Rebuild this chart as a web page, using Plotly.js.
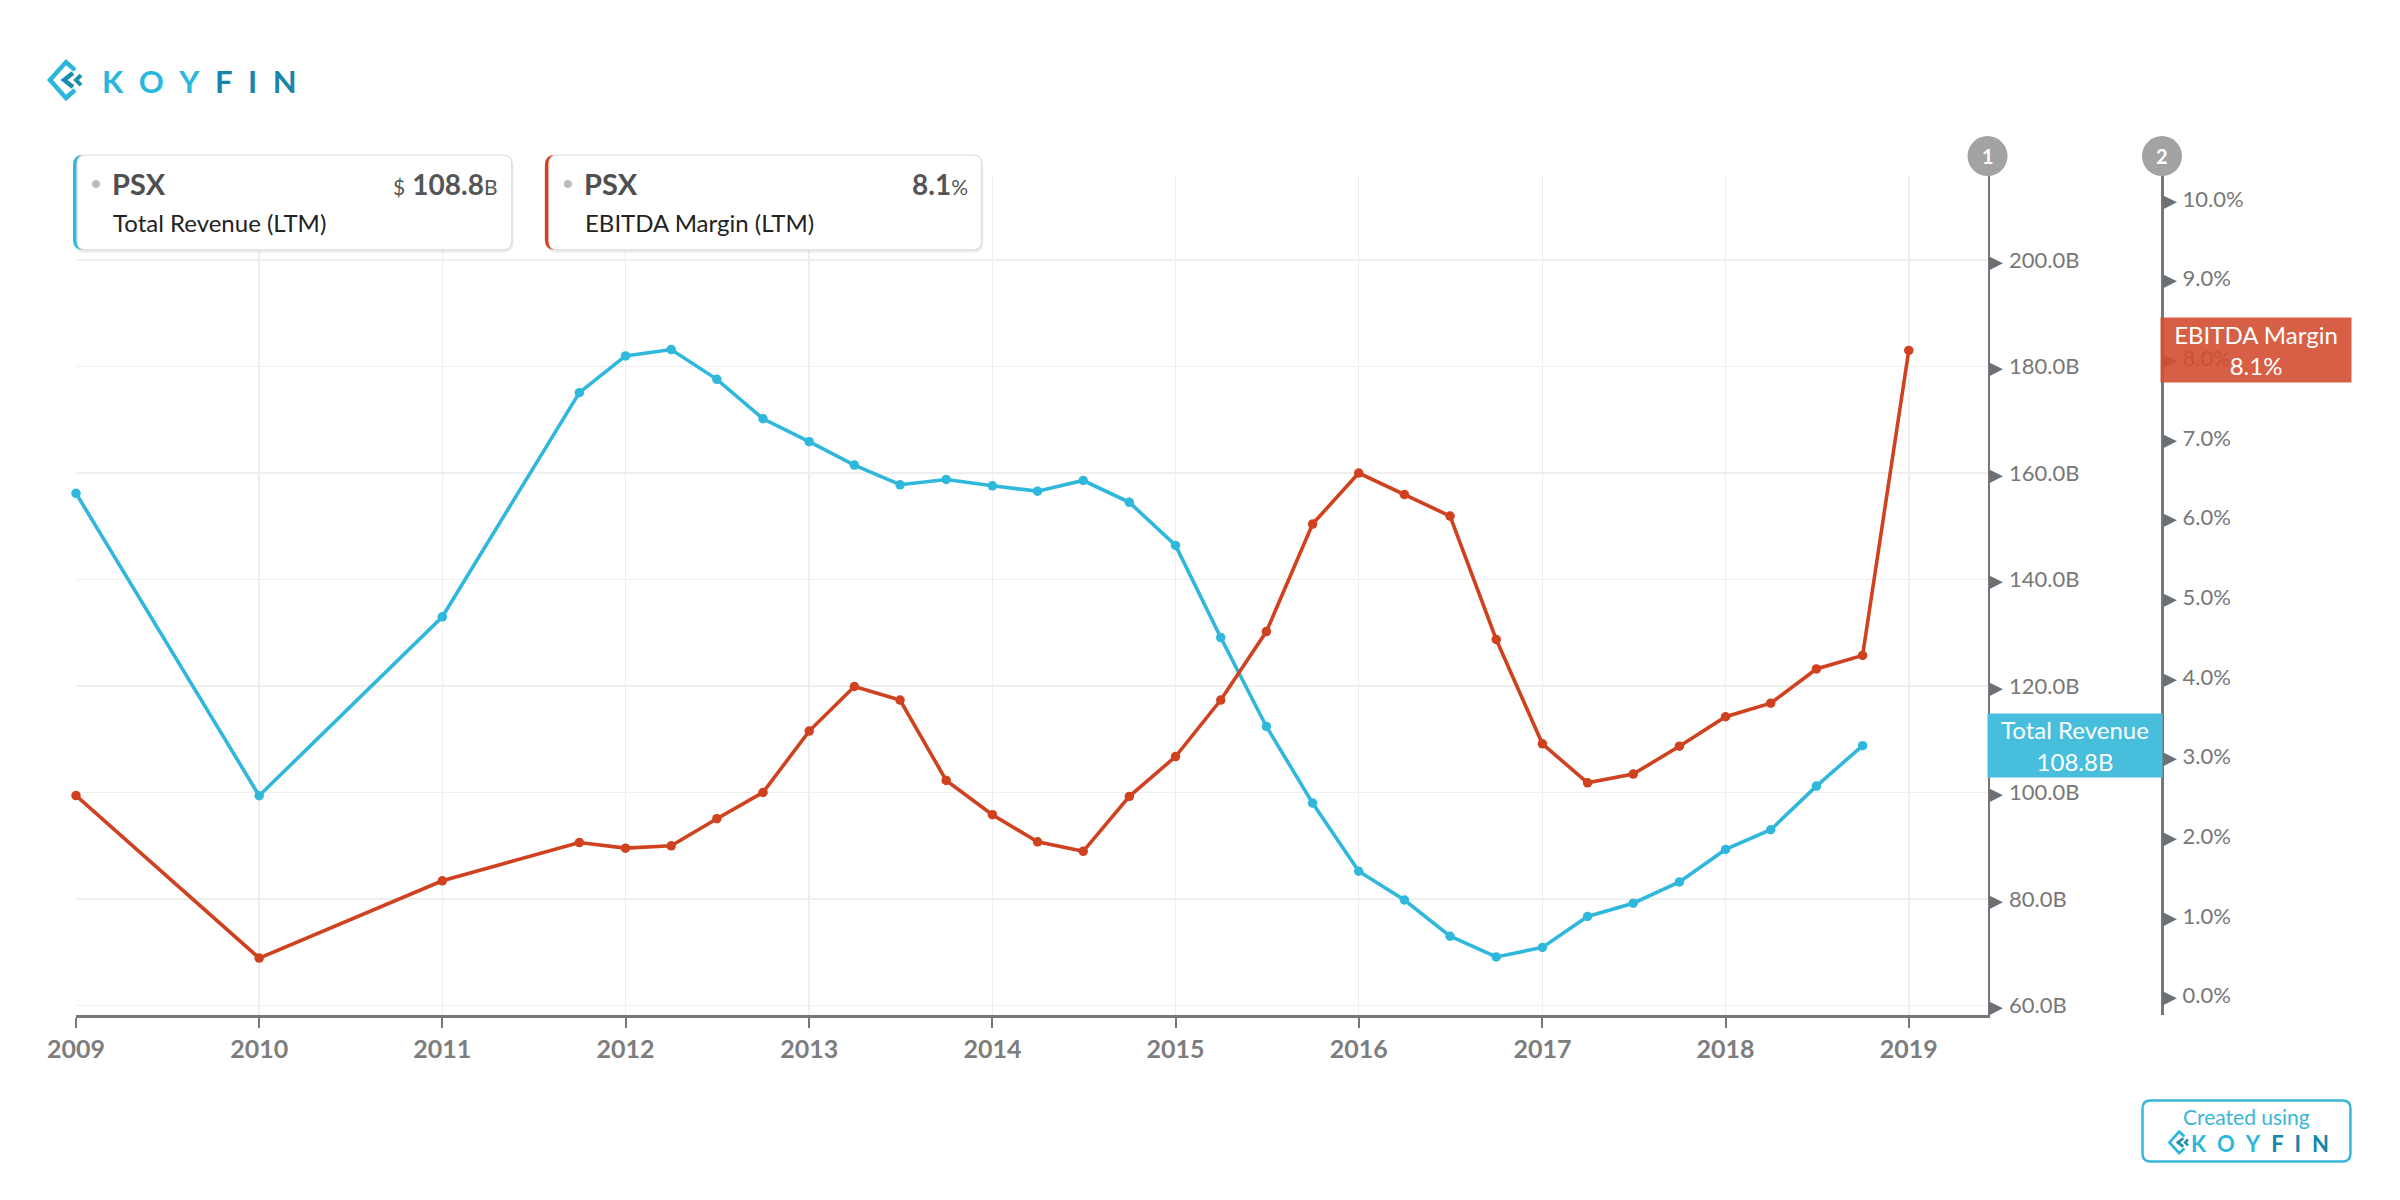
<!DOCTYPE html>
<html>
<head>
<meta charset="utf-8">
<script src="https://cdn.plot.ly/plotly-3.0.1.min.js"></script>
<style>html,body{margin:0;padding:0;background:#fff;}#chart{width:2400px;height:1200px;}</style>
</head>
<body>
<div id="chart"></div>
<script>
// ---- data ----
var ticker = 'PSX';
var revenueName = 'Total Revenue (LTM)';
var marginName = 'EBITDA Margin (LTM)';
var periods = ['2009-01-01','2010-01-01','2011-01-01','2011-10-01',
  '2012-01-01','2012-04-01','2012-07-01','2012-10-01',
  '2013-01-01','2013-04-01','2013-07-01','2013-10-01',
  '2014-01-01','2014-04-01','2014-07-01','2014-10-01',
  '2015-01-01','2015-04-01','2015-07-01','2015-10-01',
  '2016-01-01','2016-04-01','2016-07-01','2016-10-01',
  '2017-01-01','2017-04-01','2017-07-01','2017-10-01',
  '2018-01-01','2018-04-01','2018-07-01','2018-10-01','2019-01-01'];
var revenue = [156.2, 99.4, 133.0, 175.1,
  182.0, 183.2, 177.6, 170.2,
  165.9, 161.5, 157.8, 158.8,
  157.6, 156.6, 158.6, 154.5,
  146.4, 129.1, 112.4, 98.0,
  85.2, 79.8, 73.0, 69.1,
  70.9, 76.7, 79.2, 83.2,
  89.3, 93.0, 101.2, 108.8];
var margin = [2.51, 0.47, 1.44, 1.92,
  1.85, 1.88, 2.22, 2.55,
  3.32, 3.88, 3.71, 2.70,
  2.27, 1.93, 1.81, 2.50,
  3.00, 3.71, 4.57, 5.92,
  6.56, 6.29, 6.02, 4.47,
  3.16, 2.67, 2.78, 3.13,
  3.50, 3.67, 4.10, 4.27, 8.10];
var yearTicks = ['2009','2010','2011','2012','2013','2014','2015','2016','2017','2018','2019'];
var revenueTicks = [60, 80, 100, 120, 140, 160, 180, 200];
var marginTicks = [0, 1, 2, 3, 4, 5, 6, 7, 8, 9, 10];

// ---- layout helpers (pixel -> paper) ----
var W = 2400, H = 1200;
var L = 76, R = 2162.5, T = 176, B = 1015.5;
function px(x){ return (x - L) / (R - L); }
function py(y){ return (B - y) / (B - T); }
function P(x,y){ return px(x).toFixed(5) + ',' + py(y).toFixed(5); }
function rr(x0,y0,x1,y1,r){
  return 'M' + P(x0+r,y0) + ' L' + P(x1-r,y0) + ' Q' + P(x1,y0) + ' ' + P(x1,y0+r) +
    ' L' + P(x1,y1-r) + ' Q' + P(x1,y1) + ' ' + P(x1-r,y1) +
    ' L' + P(x0+r,y1) + ' Q' + P(x0,y1) + ' ' + P(x0,y1-r) +
    ' L' + P(x0,y0+r) + ' Q' + P(x0,y0) + ' ' + P(x0+r,y0) + ' Z';
}
function poly(pts){ return 'M' + pts.map(function(p){return P(p[0],p[1]);}).join(' L'); }

var BLUE = '#2fb8db', RED = '#d0421f';
var BLUE_BOX = '#46bedc', RED_BOX = 'rgba(210,78,50,0.9)';
var FONT = 'Lato, "Open Sans", sans-serif';
var tri = '<span style="font-size:18px;color:#6f6f6f">\u25B6</span>\u00a0';

var lastRev = revenue[revenue.length-1];
var lastMargin = margin[margin.length-1];

var traces = [
  {x: periods.slice(0, revenue.length), y: revenue, type: 'scatter', mode: 'lines+markers',
   name: revenueName, yaxis: 'y', line: {color: BLUE, width: 3.6}, marker: {color: BLUE, size: 9.5}, cliponaxis: false},
  {x: periods, y: margin, type: 'scatter', mode: 'lines+markers',
   name: marginName, yaxis: 'y2', line: {color: RED, width: 3.6}, marker: {color: RED, size: 9.5}, cliponaxis: false}
];

var shapes = [];
var annotations = [];

// legend cards
function card(x0, x1, color){
  shapes.push({type:'path', xref:'paper', yref:'paper', path: rr(x0+1, 157, x1+1.5, 252.5, 10), fillcolor:'rgba(0,0,0,0.07)', line:{width:0}});
  shapes.push({type:'path', xref:'paper', yref:'paper', path: rr(x0, 155, x1, 250, 10), fillcolor:color, line:{width:0}});
  shapes.push({type:'path', xref:'paper', yref:'paper', path: rr(x0+4, 155, x1, 250, 9), fillcolor:'#ffffff', line:{color:'#dcdcdc', width:1.2}});
}
card(73, 512, BLUE);
card(545, 982, RED);

function cardText(x0, x1, valueHtml, name){
  shapes.push({type:'circle', xref:'paper', yref:'paper', x0:px(x0+19), x1:px(x0+27), y0:py(188), y1:py(180), fillcolor:'#bdbdbd', line:{width:0}});
  annotations.push({xref:'paper', yref:'paper', x:px(x0+37), y:py(184), xanchor:'left', yanchor:'middle', showarrow:false,
    text:'<b>' + ticker + '</b>', font:{family:FONT, size:29, color:'#4f4f4f'}});
  annotations.push({xref:'paper', yref:'paper', x:px(x1-12), y:py(184), xanchor:'right', yanchor:'middle', showarrow:false,
    text: valueHtml, font:{family:FONT, size:28, color:'#555'}});
  annotations.push({xref:'paper', yref:'paper', x:px(x0+38), y:py(223), xanchor:'left', yanchor:'middle', showarrow:false,
    text: name, font:{family:FONT, size:24, color:'#222'}});
}
cardText(73, 512, '<span style="font-size:21px">$</span> <b>' + lastRev.toFixed(1) + '</b><span style="font-size:21px">B</span>', revenueName);
cardText(545, 982, '<b>' + lastMargin.toFixed(1) + '</b><span style="font-size:21px">%</span>', marginName);

// axis number circles
[[1988,'1'],[2162.5,'2']].forEach(function(c){
  shapes.push({type:'circle', xref:'paper', yref:'paper', x0:px(c[0]-20), x1:px(c[0]+20), y0:py(176), y1:py(136), fillcolor:'#a3a3a3', line:{width:0}});
  annotations.push({xref:'paper', yref:'paper', x:px(c[0]), y:py(156), xanchor:'center', yanchor:'middle', showarrow:false,
    text:'<b>' + c[1] + '</b>', font:{family:FONT, size:20, color:'#fff'}});
});

// right value labels
annotations.push({xref:'paper', yref:'y', x:px(2075), y:lastRev, xanchor:'center', yanchor:'middle', showarrow:false,
  text:'Total Revenue<br>' + lastRev.toFixed(1) + 'B', font:{family:FONT, size:24, color:'#fff'},
  bgcolor:BLUE_BOX, width:174, height:63, borderpad:0, align:'center'});
annotations.push({xref:'paper', yref:'y2', x:px(2257), y:lastMargin, xanchor:'center', yanchor:'middle', showarrow:false,
  text:'EBITDA Margin<br>' + lastMargin.toFixed(1) + '%', font:{family:FONT, size:24, color:'#fff'},
  bgcolor:RED_BOX, width:190, height:64, borderpad:0, align:'center'});

// KOYFIN logo (top-left)
function logoIcon(x, y, s){
  // x,y = left tip; s = scale
  shapes.push({type:'path', xref:'paper', yref:'paper',
    path: poly([[x+25*s,y-10*s],[x+16*s,y-18*s],[x,y],[x+16*s,y+18*s],[x+25*s,y+10*s]]), line:{color:'#2bb7dc', width:4.5*s}});
  shapes.push({type:'path', xref:'paper', yref:'paper', path: poly([[x+23*s,y-7*s],[x+14*s,y],[x+23*s,y+7*s]]), line:{color:'#1c8fb0', width:4.5*s}});
  shapes.push({type:'path', xref:'paper', yref:'paper', path: poly([[x+31*s,y-5*s],[x+26*s,y],[x+31*s,y+5*s]]), line:{color:'#1c8fb0', width:4*s}});
}
logoIcon(50, 80, 1);
var sp = '\u2002';
function koyfin(){ return '<b><span style="color:#2bb7dc">K' + sp + 'O' + sp + 'Y' + sp + '</span><span style="color:#1786a8">F' + sp + 'I' + sp + 'N</span></b>'; }
annotations.push({xref:'paper', yref:'paper', x:px(100), y:py(81), xanchor:'left', yanchor:'middle', showarrow:false,
  text: koyfin(), font:{family:FONT, size:31, color:'#2bb7dc'}});

// Created using badge
shapes.push({type:'path', xref:'paper', yref:'paper', path: rr(2143, 1101, 2351, 1162, 8), fillcolor:'#fff', line:{color:'#3ab6d9', width:2.5}});
annotations.push({xref:'paper', yref:'paper', x:px(2247), y:py(1117), xanchor:'center', yanchor:'middle', showarrow:false,
  text:'Created using', font:{family:FONT, size:21, color:'#3ab6d9'}});
logoIcon(2170, 1143, 0.6);
annotations.push({xref:'paper', yref:'paper', x:px(2190), y:py(1144), xanchor:'left', yanchor:'middle', showarrow:false,
  text: koyfin(), font:{family:FONT, size:22, color:'#2bb7dc'}});

var layout = {
  width: W, height: H,
  margin: {l: L, r: W - R, t: T, b: H - B, pad: 0},
  paper_bgcolor: '#fff', plot_bgcolor: '#fff',
  showlegend: false,
  font: {family: FONT, color: '#777'},
  xaxis: {
    type: 'date', domain: [0, (1988 - L) / (R - L)],
    range: ['2009-01-01', '2019-06-07'],
    tickvals: yearTicks.map(function(y){ return y + '-01-01'; }),
    ticktext: yearTicks.map(function(y){ return '<b>' + y + '</b>'; }),
    tickfont: {family: FONT, size: 25, color: '#7d7d7d'},
    ticks: 'outside', ticklen: 10, tickwidth: 2, tickcolor: '#777',
    showline: true, linecolor: '#777', linewidth: 2.5,
    showgrid: true, gridcolor: '#efefef', gridwidth: 1.5, zeroline: false,
    fixedrange: true
  },
  yaxis: {
    side: 'right', anchor: 'x',
    range: [58.2, 215.8],
    tickvals: revenueTicks,
    ticktext: revenueTicks.map(function(v){ return tri + v.toFixed(1) + 'B'; }),
    tickfont: {family: FONT, size: 22, color: '#777'},
    ticks: '', ticklabelstandoff: -5, showline: true, linecolor: '#777', linewidth: 2.5,
    showgrid: true, gridcolor: '#efefef', gridwidth: 1.5, zeroline: false
  },
  yaxis2: {
    overlaying: 'y', side: 'right', anchor: 'free', position: 1,
    range: [-0.245, 10.29],
    tickvals: marginTicks,
    ticktext: marginTicks.map(function(v){ return tri + v.toFixed(1) + '%'; }),
    tickfont: {family: FONT, size: 22, color: '#777'},
    ticks: '', ticklabelstandoff: -5, showline: true, linecolor: '#777', linewidth: 2.5,
    showgrid: false, zeroline: false
  },
  shapes: shapes,
  annotations: annotations
};

Plotly.newPlot('chart', traces, layout, {displayModeBar: false, staticPlot: true});
</script>
</body>
</html>
